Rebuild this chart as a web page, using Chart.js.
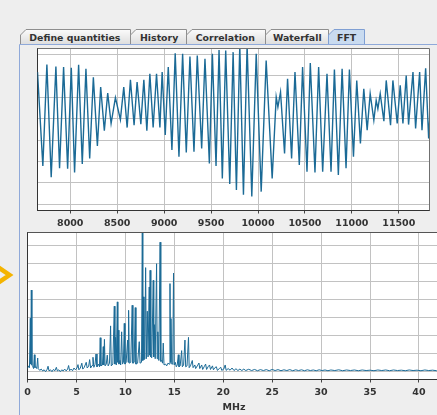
<!DOCTYPE html>
<html>
<head>
<meta charset="utf-8">
<title>FFT</title>
<script src="https://cdn.jsdelivr.net/npm/chart.js@4.4.1/dist/chart.umd.min.js"></script>
<style>
  html, body { margin: 0; padding: 0; width: 437px; height: 415px; overflow: hidden; background: #eeeeee; }
  .layer { position: absolute; }
  #chrome { left: 0; top: 0; }
  #waveBox { left: 20px; top: 45px; width: 417px; height: 185px; }
  #fftBox { left: 20px; top: 228px; width: 425px; height: 187px; }
</style>
</head>
<body>
<svg id="chrome" class="layer" width="437" height="415" viewBox="0 0 437 415">
  <defs>
    <linearGradient id="tabFill" x1="0" y1="0" x2="0" y2="1">
      <stop offset="0" stop-color="#fbfbfb"/>
      <stop offset="1" stop-color="#dcdcdc"/>
    </linearGradient>
  </defs>
  <g stroke="#8e8e8e" fill="url(#tabFill)">
    <path d="M20.5 45 V35 L26 29.5 H130.5 V45"/>
    <path d="M130.5 45 V35 L136 29.5 H186.5 V45"/>
    <path d="M186.5 45 V35 L192 29.5 H265.5 V45"/>
    <path d="M265.5 45 V35 L271 29.5 H328.5 V45"/>
  </g>
  <path d="M328.5 45 V35 L334 29.5 H364.5 V45" fill="#c9dbf0" stroke="#7f9fd3"/>
  <g font-family="DejaVu Sans" font-weight="bold" font-size="9.4" fill="#333333">
    <text x="29.3" y="40.7">Define quantities</text>
    <text x="140" y="40.7">History</text>
    <text x="195.7" y="40.7">Correlation</text>
    <text x="273" y="40.7">Waterfall</text>
    <text x="337" y="40.7">FFT</text>
  </g>
  <path d="M19.5 415 V44.5 H437" fill="none" stroke="#8fa9d9"/>
  <polyline points="-3,266.5 9.5,275 -3,283.5" fill="none" stroke="#f4b400" stroke-width="4.5"/>
</svg>

<div id="waveBox" class="layer"><canvas id="waveCanvas"></canvas></div>
<div id="fftBox" class="layer"><canvas id="fftCanvas"></canvas></div>

<script>
// Time trace: turning points of the sampled signal
const waveX = [7651,7708,7751,7797,7847,7886,7929,7972,8011,8046,8089,8128,8167,8207,8246,8289,8324,8363,8399,8435,
  8481,8534,8570,8606,8641,8680,8712,8752,8784,8816,8848,8883,8919,8955,8979,9012,9044,9083,9118,9158,
  9197,9236,9275,9318,9353,9400,9435,9482,9514,9553,9585,9620,9656,9699,
  9735,9770,9806,9845,9884,9934,9981,10034,10087,10151,10194,10212,10240,10283,10315,10358,10394,10440,10475,10522,
  10557,10607,10646,10689,10735,10778,10814,10856,10896,10938,10974,11017,11052,11091,11127,11163,11195,11234,11259,11277,
  11302,11341,11366,11412,11437,11483,11515,11544,11579,11604,11651,11679,11722,11747,11786,11818,11839];
const waveY = [2.17,-2.21,2.52,-2.74,2.43,-2.32,2.40,-2.34,2.37,-2.52,2.51,-2.12,2.32,-1.86,1.93,-1.28,1.47,-0.57,1.19,-0.23,
  0.98,-0.05,1.47,-0.42,1.81,-0.31,1.70,-0.26,1.81,-0.57,2.09,-0.42,2.09,-0.42,2.17,-0.77,2.40,-1.47,3.05,-1.78,
  3.02,-1.58,2.89,-1.55,2.94,-1.39,2.79,-2.09,3.02,-2.21,3.20,-2.79,3.17,-3.05,
  3.10,-3.33,3.41,-3.56,3.41,-3.64,3.02,-3.41,2.71,-2.79,1.01,0.54,1.24,-1.63,1.86,-1.86,2.17,-2.17,2.40,-2.48,
  2.59,-2.52,2.40,-2.48,2.09,-2.48,2.29,-2.63,2.32,-2.32,2.29,-1.78,1.78,-1.16,1.39,-0.54,1.16,-0.08,0.85,0.46,
  1.16,-0.12,1.78,-0.31,1.78,-0.23,1.55,-0.23,2.01,-0.28,2.17,-0.46,2.17,-0.54,2.35,-0.93,0.77];
const waveTicks = [8000, 8500, 9000, 9500, 10000, 10500, 11000, 11500];
const waveGrid = [-4, -3, -2, -1, 0, 1, 2, 3];

// Spectrum, MHz vs magnitude: low end, main band, flat tail
const fftLowFreq = [0.00,0.10,0.20,0.29,0.33,0.39,0.45,0.55,0.62,0.70,0.76,0.85,0.95,1.04,1.10,1.25,1.40,1.55,1.70,1.85,
  2.00,2.10,2.20,2.35,2.50,2.65,2.80,2.95,3.05,3.20,3.35,3.50,3.65,3.80,3.95,4.10,4.20,4.30,4.45,4.60,
  4.75,4.90,5.05,5.16,5.25,5.40,5.55,5.65,5.80,6.00,6.10,6.25,6.35,6.45,6.60,6.69,6.78,6.90];
const fftLowMag = [0.15,0.30,0.20,2.96,0.40,4.53,0.35,0.25,0.15,0.92,0.20,0.25,0.15,0.74,0.15,0.05,0.12,0.02,0.08,-0.02,
  0.10,0.28,0.02,0.08,-0.02,0.10,0.03,0.22,0.02,0.08,-0.02,0.08,0.02,0.12,0.02,0.12,0.32,0.03,0.12,0.03,
  0.18,0.08,0.18,0.37,0.08,0.18,0.45,0.12,0.22,0.50,0.18,0.28,0.65,0.18,0.32,0.78,0.22,0.38];

const fftBandFreq = [7.00,7.10,7.25,7.36,7.43,7.50,7.66,7.74,7.79,7.86,7.93,8.05,8.15,8.24,8.38,8.49,8.56,8.72,8.87,8.93,
  9.00,9.07,9.18,9.23,9.27,9.34,9.45,9.52,9.62,9.70,9.80,9.89,9.96,10.08,10.23,10.28,10.33,10.40,10.55,10.70,
  10.77,10.90,11.01,11.08,11.25,11.42,11.50,11.65,11.73,11.78,11.83,11.90,11.98,12.07,12.14,12.24,12.32,12.44,12.48,12.53,
  12.60,12.70,12.85,12.90,12.96,13.05,13.19,13.25,13.32,13.42,13.55,13.62,13.72,13.80,13.87,13.95,14.10,14.22,14.35,14.48,
  14.56,14.61,14.66,14.74,14.84,14.92,14.99,15.10,15.20,15.30,15.41,15.48,15.60,15.75,15.82,15.95,16.09,16.16,16.30,16.45,
  16.52,16.65,16.84,16.92,17.10,17.18,17.35,17.52,17.60,17.80,17.90,18.05,18.20,18.30,18.45,18.60,18.70,18.90,19.00,19.15,
  19.30,19.40,19.60,19.75,19.85,20.05,20.20,20.30,20.50,20.70,20.90,21.10,21.30,21.50,21.70,21.90,22.10];
const fftBandMag = [0.96,0.25,0.40,0.25,1.87,0.30,0.35,1.37,0.35,1.78,0.30,0.40,0.90,0.30,0.45,2.53,0.30,0.40,3.63,0.40,
  1.89,0.35,3.87,0.50,2.29,0.40,0.60,0.35,2.20,0.40,0.50,2.67,0.40,0.50,1.74,0.50,3.40,0.45,0.50,3.68,
  0.45,0.50,3.55,0.40,0.45,1.65,0.45,0.50,7.74,0.60,4.15,0.65,0.70,5.78,0.70,3.35,0.80,4.70,0.90,5.63,
  0.80,0.75,5.07,0.80,2.60,0.70,6.00,0.70,2.20,0.60,7.20,0.55,0.60,0.45,1.57,0.35,0.40,0.30,0.45,0.40,
  4.89,0.50,2.94,0.40,0.40,5.48,0.35,0.50,0.25,0.35,0.92,0.25,0.30,1.15,0.25,0.35,1.74,0.25,0.30,1.89,
  0.20,0.30,0.60,0.20,0.35,0.15,0.30,0.46,0.15,0.35,0.10,0.25,0.40,0.10,0.25,0.35,0.10,0.30,0.08,0.20,
  0.25,0.05,0.15,0.22,0.05,0.12,0.35,0.05,0.15,0.06,0.18,0.04,0.14,0.04,0.12,0.04,0.12];

const fftTailFreq = [22.30,22.60,22.90,23.20,23.50,23.80,24.10,24.40,24.70,25.00,25.30,25.60,25.90,26.20,26.50,26.80,27.10,27.40,27.70,28.00,
  28.30,28.60,28.90,29.20,29.50,29.80,30.10,30.40,30.70,31.00,31.40,31.80,32.20,32.60,33.00,33.40,33.80,34.20,34.60,35.00,
  35.40,35.80,36.20,36.60,37.00,37.40,37.80,38.20,38.60,39.00,39.40,39.80,40.20,40.60,41.00,41.40,41.80,42.20];
const fftTailMag = [0.04,0.11,0.04,0.10,0.03,0.09,0.04,0.09,0.03,0.10,0.04,0.09,0.03,0.08,0.04,0.09,0.03,0.08,0.04,0.08,
  0.03,0.08,0.04,0.07,0.03,0.08,0.04,0.07,0.03,0.07,0.04,0.08,0.03,0.07,0.04,0.07,0.03,0.07,0.04,0.06,
  0.03,0.07,0.04,0.07,0.03,0.07,0.04,0.06,0.03,0.07,0.04,0.06,0.03,0.07,0.04,0.06,0.03,0.05];
const fftTicks = [0, 5, 10, 15, 20, 25, 30, 35, 40];
const fftGrid = [0, 1, 2, 3, 4, 5, 6, 7];

const fftFreq = [...fftLowFreq, ...fftBandFreq, ...fftTailFreq];
const fftMag = [...fftLowMag, ...fftBandMag, ...fftTailMag];

const TRACE = '#1b6a96';
const GRID = '#c2c2c2';
const tickFont = { family: 'DejaVu Sans', size: 9.5, weight: 'bold' };

// White plot background plus the top/right edges of the frame
const plotFrame = {
  id: 'plotFrame',
  beforeDraw(chart) {
    const a = chart.chartArea, ctx = chart.ctx;
    ctx.save();
    ctx.fillStyle = '#ffffff';
    ctx.fillRect(a.left, a.top, a.right - a.left, a.bottom - a.top);
    ctx.restore();
  },
  afterDraw(chart, args, opts) {
    const a = chart.chartArea, ctx = chart.ctx;
    const l = Math.floor(a.left) + 0.5, t = Math.floor(a.top) + 0.5;
    const r = Math.floor(a.right) + 0.5, b = Math.floor(a.bottom) + 0.5;
    ctx.save();
    ctx.strokeStyle = opts.color || '#707070';
    ctx.lineWidth = 1;
    ctx.beginPath();
    ctx.moveTo(l, t);
    ctx.lineTo(r, t);
    if (opts.right !== false) ctx.lineTo(r, b);
    ctx.stroke();
    ctx.restore();
  }
};

function xAxis(min, max, ticks, height, title) {
  return {
    type: 'linear', min, max,
    afterBuildTicks: s => { s.ticks = ticks.map(v => ({ value: v })); },
    afterFit: s => { s.height = height; },
    grid: { color: GRID, lineWidth: 1, drawTicks: true, tickLength: 3, tickColor: '#444444' },
    border: { display: true, color: '#333333', width: 1 },
    ticks: { font: tickFont, color: '#333333', padding: 4, maxRotation: 0, minRotation: 0, autoSkip: false,
             callback: v => String(v) },
    title: title
      ? { display: true, text: title, font: tickFont, color: '#333333', padding: { top: 0, bottom: 0 } }
      : { display: false }
  };
}

function yAxis(min, max, grid, width) {
  return {
    type: 'linear', min, max,
    afterBuildTicks: s => { s.ticks = grid.map(v => ({ value: v })); },
    afterFit: s => { s.width = width; },
    grid: { color: GRID, lineWidth: 1, drawTicks: false },
    border: { display: true, color: '#333333', width: 1 },
    ticks: { display: false }
  };
}

const common = {
  responsive: true,
  maintainAspectRatio: false,
  animation: false,
  devicePixelRatio: 1,
  events: [],
  elements: { point: { radius: 0 } }
};

new Chart(document.getElementById('waveCanvas'), {
  type: 'line',
  data: {
    datasets: [{
      data: waveX.map((x, i) => ({ x, y: waveY[i] })),
      borderColor: TRACE,
      borderWidth: 1.4,
      pointRadius: 0,
      tension: 0,
      fill: false
    }]
  },
  options: {
    ...common,
    layout: { padding: { left: 0, top: 3.5, right: 7.5, bottom: 0 } },
    plugins: { legend: { display: false }, tooltip: { enabled: false }, plotFrame: { color: '#707070' } },
    scales: {
      x: xAxis(7651, 11827, waveTicks, 19.5, null),
      y: yAxis(-4.29, 3.27, waveGrid, 17.5)
    }
  },
  plugins: [plotFrame]
});

new Chart(document.getElementById('fftCanvas'), {
  type: 'line',
  data: {
    datasets: [{
      data: fftFreq.map((x, i) => ({ x, y: fftMag[i] })),
      borderColor: TRACE,
      borderWidth: 1,
      pointRadius: 0,
      tension: 0,
      fill: false
    }]
  },
  options: {
    ...common,
    layout: { padding: { left: 0, top: 4.5, right: 4.5, bottom: 1.3 } },
    plugins: { legend: { display: false }, tooltip: { enabled: false }, plotFrame: { color: '#555555', right: false } },
    scales: {
      x: xAxis(0, 42.2, fftTicks, 34.2, 'MHz'),
      y: yAxis(-0.46, 7.74, fftGrid, 7.5)
    }
  },
  plugins: [plotFrame]
});
</script>
</body>
</html>
